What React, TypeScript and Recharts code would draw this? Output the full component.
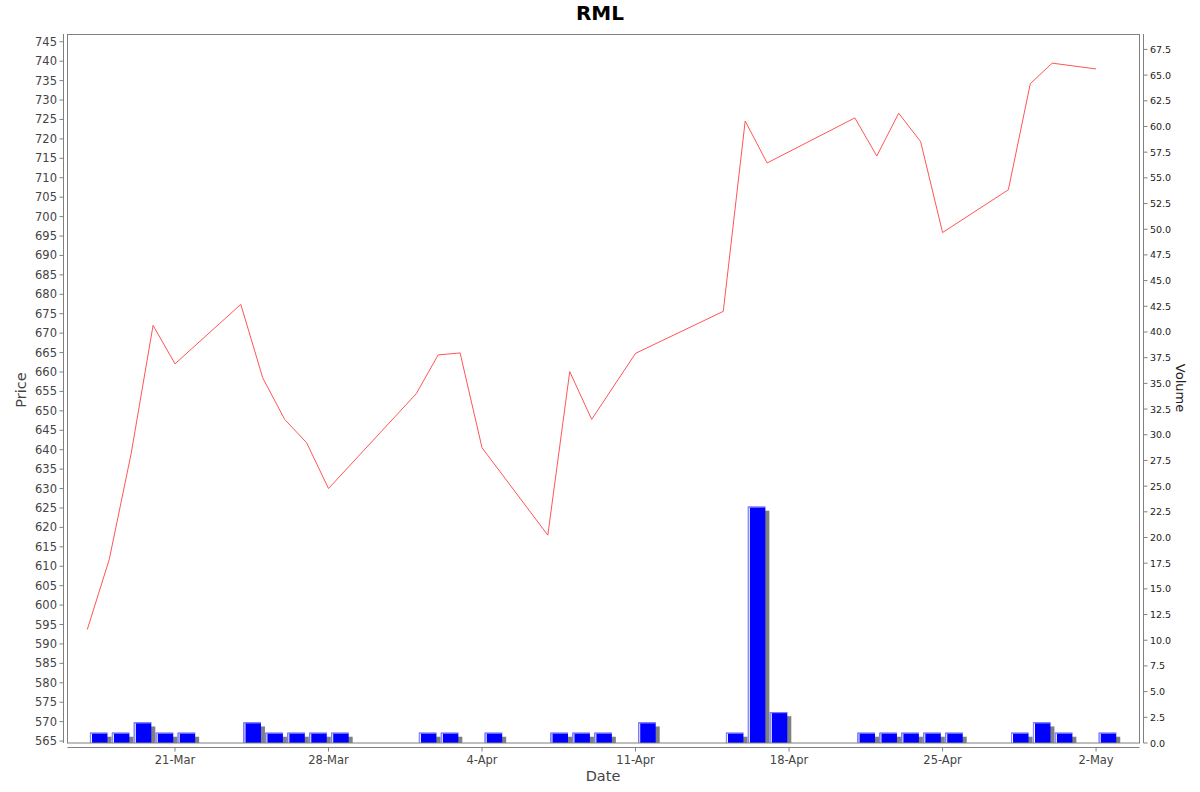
import React from 'react'
import { ComposedChart, Bar, Line, XAxis, YAxis } from 'recharts'

// trading days shown on the chart
const dates = [
  '2025-03-17', '2025-03-18', '2025-03-19', '2025-03-20', '2025-03-21',
  '2025-03-24', '2025-03-25', '2025-03-26', '2025-03-27', '2025-03-28',
  '2025-04-01', '2025-04-02', '2025-04-03', '2025-04-04',
  '2025-04-07', '2025-04-08', '2025-04-09', '2025-04-11',
  '2025-04-15', '2025-04-16', '2025-04-17',
  '2025-04-21', '2025-04-22', '2025-04-23', '2025-04-24', '2025-04-25',
  '2025-04-28', '2025-04-29', '2025-04-30', '2025-05-02',
]

const prices = [
  593.7, 611.7, 639.0, 672.0, 662.1,
  677.4, 658.5, 647.8, 641.8, 630.0,
  654.4, 664.4, 664.9, 640.5,
  618.0, 660.1, 647.8, 664.8,
  675.6, 724.6, 713.8,
  725.4, 715.6, 726.6, 719.3, 695.9,
  706.9, 734.2, 739.5, 738.0,
]

const volumes = [
  1, 1, 2, 1, 1,
  2, 1, 1, 1, 1,
  1, 1, 0, 1,
  1, 1, 1, 2,
  1, 23, 3,
  1, 1, 1, 1, 1,
  1, 2, 1, 1,
]

const dateTicks = ['2025-03-21', '2025-03-28', '2025-04-04', '2025-04-11', '2025-04-18', '2025-04-25', '2025-05-02']
const dateTickLabels = ['21-Mar', '28-Mar', '4-Apr', '11-Apr', '18-Apr', '25-Apr', '2-May']

const priceTicks = [
  565, 570, 575, 580, 585, 590, 595, 600, 605, 610, 615, 620, 625, 630, 635, 640, 645, 650, 655,
  660, 665, 670, 675, 680, 685, 690, 695, 700, 705, 710, 715, 720, 725, 730, 735, 740, 745,
]

const volumeTicks = [
  0, 2.5, 5, 7.5, 10, 12.5, 15, 17.5, 20, 22.5, 25, 27.5, 30, 32.5, 35, 37.5, 40, 42.5, 45,
  47.5, 50, 52.5, 55, 57.5, 60, 62.5, 65, 67.5,
]

const DAY = 86400000
const toTime = (d: string) => Date.parse(d + 'T00:00:00Z')

const lineData = dates.map((d, i) => ({ t: toTime(d), price: prices[i] }))
// volume bars span each trading day, so they sit half a day right of the price point
const barData = dates.map((d, i) => ({ t: toTime(d) + DAY / 2, volume: volumes[i] }))

const anchor = toTime('2025-03-21')
const xDomain = [anchor - 4.902 * DAY, anchor + 43.98 * DAY]

const FONT = '"DejaVu Sans", sans-serif'

// plot box (page pixels)
const PL = 67.5
const PR = 1139.5
const PT = 34
const PB = 743
const BAR_W = 17.5

const VolumeBar = (props: any) => {
  const { x, y, width, height } = props
  if (!height || height <= 0) return null
  const left = x + width / 2 - BAR_W / 2
  return (
    <g>
      <rect x={left + 4} y={y + 4} width={BAR_W} height={Math.max(height - 4, 0)} fill="#808080" />
      <rect x={left} y={y} width={BAR_W} height={height} fill="#0000ff" />
      <rect x={left} y={y} width={1} height={height} fill="#8c8cff" />
      <rect x={left} y={y} width={BAR_W} height={1} fill="#8c8cff" />
      <rect x={left + 1} y={y + 1} width={1} height={height - 1} fill="#ffffff" />
    </g>
  )
}

const PriceTick = (props: any) => {
  const { y, payload } = props
  return (
    <g>
      <line x1={PL - 8} x2={PL - 4} y1={y} y2={y} stroke="#808080" />
      <text x={PL - 10.5} y={y + 4} textAnchor="end" fontSize={11.5} fill="#444" fontFamily={FONT}>
        {payload.value}
      </text>
    </g>
  )
}

const VolumeTick = (props: any) => {
  const { y, payload } = props
  return (
    <g>
      <line x1={PR + 4} x2={PR + 8} y1={y} y2={y} stroke="#808080" />
      <text x={PR + 10.5} y={y + 3.5} textAnchor="start" fontSize={9.5} fill="#222" fontFamily={FONT}>
        {Number(payload.value).toFixed(1)}
      </text>
    </g>
  )
}

const DateTick = (props: any) => {
  const { x, payload } = props
  const idx = dateTicks.map(toTime).indexOf(payload.value)
  return (
    <g>
      <line x1={x} x2={x} y1={PB + 4.5} y2={PB + 8.5} stroke="#808080" />
      <text x={x} y={PB + 20.5} textAnchor="middle" fontSize={11.5} fill="#444" fontFamily={FONT}>
        {dateTickLabels[idx]}
      </text>
    </g>
  )
}

export default function App() {
  return (
    <div style={{ position: 'absolute', left: 0, top: 0, width: 1200, height: 792, background: '#fff' }}>
      <ComposedChart
        width={1200}
        height={792}
        data={barData}
        margin={{ top: PT, right: 1200 - PR - 55, bottom: 792 - PB - 30, left: PL - 60 }}
      >
        <XAxis
          dataKey="t"
          type="number"
          domain={xDomain}
          allowDataOverflow
          ticks={dateTicks.map(toTime)}
          interval={0}
          height={30}
          axisLine={false}
          tickLine={false}
          tick={DateTick}
        />
        <YAxis
          yAxisId="price"
          orientation="left"
          width={60}
          domain={[564.5, 747]}
          allowDataOverflow
          ticks={priceTicks}
          interval={0}
          axisLine={false}
          tickLine={false}
          tick={PriceTick}
        />
        <YAxis
          yAxisId="vol"
          orientation="right"
          width={55}
          domain={[0, 69]}
          allowDataOverflow
          ticks={volumeTicks}
          interval={0}
          axisLine={false}
          tickLine={false}
          tick={VolumeTick}
        />
        <Bar
          yAxisId="vol"
          dataKey="volume"
          barSize={BAR_W}
          shape={VolumeBar}
          isAnimationActive={false}
        />
        <Line
          yAxisId="price"
          data={lineData}
          dataKey="price"
          stroke="#ff5555"
          strokeWidth={1}
          dot={false}
          type="linear"
          isAnimationActive={false}
        />
      </ComposedChart>
      <svg
        width={1200}
        height={792}
        style={{ position: 'absolute', left: 0, top: 0, pointerEvents: 'none' }}
      >
        <rect x={PL} y={PT + 0.5} width={PR - PL} height={PB - PT - 0.5} fill="none" stroke="#808080" />
        <line x1={PL - 4} x2={PL - 4} y1={PT} y2={PB} stroke="#808080" />
        <line x1={PR + 4} x2={PR + 4} y1={PT} y2={PB} stroke="#808080" />
        <line x1={PL} x2={PR} y1={PB + 4.5} y2={PB + 4.5} stroke="#808080" />
        <text x={600} y={20} textAnchor="middle" fontSize={20} fontWeight="bold" fill="#000" fontFamily={FONT}>
          RML
        </text>
        <text x={603} y={781} textAnchor="middle" fontSize={14.5} fill="#444" fontFamily={FONT}>
          Date
        </text>
        <text
          x={21}
          y={390}
          textAnchor="middle"
          fontSize={14.5}
          fill="#444"
          fontFamily={FONT}
          transform="rotate(-90 21 390)"
          dy={5}
        >
          Price
        </text>
        <text
          x={1181}
          y={388}
          textAnchor="middle"
          fontSize={13}
          fill="#222"
          fontFamily={FONT}
          transform="rotate(90 1181 388)"
          dy={5}
        >
          Volume
        </text>
      </svg>
    </div>
  )
}
